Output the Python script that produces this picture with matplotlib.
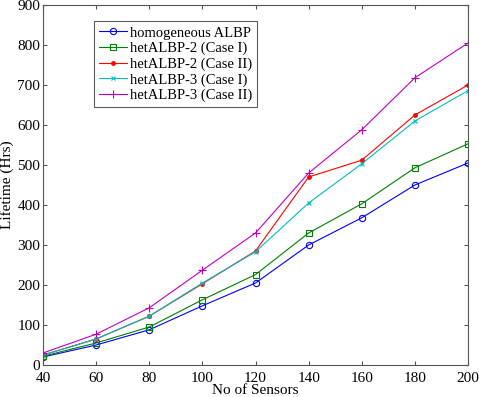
import matplotlib
matplotlib.use("Agg")
import matplotlib.pyplot as plt

# number of sensors
sensors = [40, 60, 80, 100, 120, 140, 160, 180, 200]

# lifetime (Hrs)
homogeneous = [20, 50, 88, 148, 205, 300, 368, 450, 505]
het2_case1 = [22, 55, 95, 163, 226, 330, 403, 493, 553]
het2_case2 = [25, 65, 122, 203, 285, 470, 512, 625, 700]
het3_case1 = [25, 65, 122, 205, 283, 405, 503, 610, 686]
het3_case2 = [30, 77, 143, 237, 330, 480, 588, 718, 805]

labels = ["homogeneous ALBP", "hetALBP-2 (Case I)", "hetALBP-2 (Case II)",
          "hetALBP-3 (Case I)", "hetALBP-3 (Case II)"]

plt.rcParams['font.family'] = ['Liberation Serif', 'DejaVu Serif']

fig = plt.figure(figsize=(4.79, 3.97), dpi=100)
ax = fig.add_axes([43 / 479, 1 - 365 / 397, 425 / 479, 360 / 397])

lw = 0.8
ax.plot(sensors, homogeneous, color='#0000ff', marker='o', mfc='none', ms=4.5, lw=lw, mew=0.8, label=labels[0])
ax.plot(sensors, het2_case1, color='#008000', marker='s', mfc='none', ms=4.5, lw=lw, mew=0.8, label=labels[1])
ax.plot(sensors, het2_case2, color='#ff0000', marker='.', ms=5, lw=lw, label=labels[2])
ax.plot(sensors, het3_case1, color='#00bfbf', marker='x', ms=3.5, lw=lw, mew=0.8, label=labels[3])
ax.plot(sensors, het3_case2, color='#bf00bf', marker='+', ms=5.5, lw=lw, mew=0.8, label=labels[4])

ax.set_xlim(40, 200)
ax.set_ylim(0, 900)
ax.set_xticks(sensors)
ax.set_yticks(range(0, 901, 100))
ax.tick_params(direction='in', top=True, right=True, labelsize=11, length=3, color='#555555')
ax.tick_params(axis='y', pad=2)
ax.tick_params(axis='x', pad=5)
for s in ax.spines.values():
    s.set_color('#555555')
    s.set_linewidth(0.8)

ax.set_xlabel("No of Sensors", fontsize=11, labelpad=-1)
ax.set_ylabel("Lifetime (Hrs)", fontsize=11)
ax.yaxis.set_label_coords(-29 / 425, 0.5)

leg = ax.legend(loc='upper left', bbox_to_anchor=(0.12, 0.955), fontsize=10.5,
                frameon=True, fancybox=False, edgecolor='#333333',
                handlelength=1.9, handletextpad=0.2, labelspacing=0.15,
                borderpad=0.35, borderaxespad=0)
leg.get_frame().set_linewidth(0.8)

fig.savefig("out.png", dpi=100)
